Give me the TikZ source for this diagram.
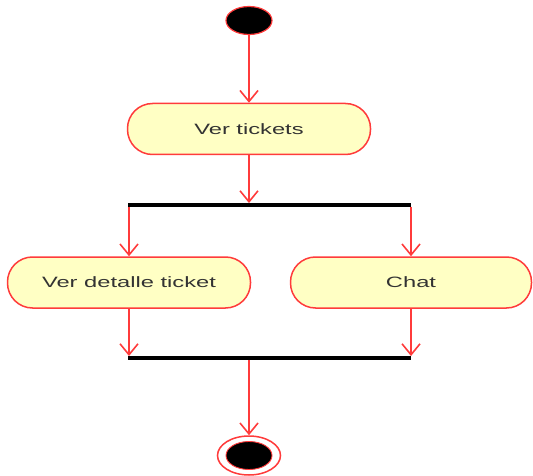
\documentclass[tikz,border=0pt]{standalone}
\usepackage{fontspec}
\setmainfont{Liberation Sans}[FakeStretch=1.58]
\usetikzlibrary{arrows.meta,shapes.geometric}
\definecolor{umlred}{HTML}{FF3B3B}
\definecolor{umlfill}{HTML}{FFFFC4}
\definecolor{umltext}{HTML}{333333}

\begin{document}
\begin{tikzpicture}[x=1pt,y=-1pt,
  action/.style={rectangle, rounded corners=25pt, draw=umlred, fill=umlfill,
    line width=1.5pt, minimum width=243pt, minimum height=51pt, inner sep=0pt,
    text=umltext, font=\fontsize{15}{18}\selectfont},
  flow/.style={draw=umlred, line width=1.8pt,
    -{Straight Barb[length=11pt,width=18pt,line width=1.6pt]}},
  syncbar/.style={rectangle, fill=black, minimum width=283pt,
    minimum height=3.5pt, inner sep=0pt},
  initial/.style={ellipse, fill=black, draw=umlred, line width=1.2pt,
    minimum width=46pt, minimum height=28pt, inner sep=0pt},
  finalring/.style={ellipse, fill=white, draw=umlred, line width=1.5pt,
    minimum width=63pt, minimum height=39pt, inner sep=0pt},
  finaldot/.style={ellipse, fill=black, draw=umlred, line width=0.9pt,
    minimum width=46pt, minimum height=28pt, inner sep=0pt},
]
\useasboundingbox (0,0) rectangle (533,476);

% start and first action
\node[initial] (start) at (249,20.5) {};
\node[action] (vt) at (249,129) {Ver tickets};

% fork bar and the two parallel actions
\node[syncbar] (fork) at (269.5,205) {};
\node[action] (vdt) at (129,282.5) {Ver detalle ticket};
\node[action, minimum width=241pt] (chat) at (411,282.5) {Chat};

% join bar and final state
\node[syncbar] (join) at (269.5,358) {};
\node[finalring] (end) at (249,455.5) {};
\node[finaldot] (enddot) at (end.center) {};

% control flows
\draw[flow] (start.south) -- (vt.north);
\draw[flow] (vt.south) -- (vt.south |- fork.north);
\draw[flow] (fork.south -| vdt.north) -- (vdt.north);
\draw[flow] (fork.south -| chat.north) -- (chat.north);
\draw[flow] (vdt.south) -- (vdt.south |- join.north);
\draw[flow] (chat.south) -- (chat.south |- join.north);
\draw[flow] (join.south -| end.north) -- (end.north);
\end{tikzpicture}
\end{document}
